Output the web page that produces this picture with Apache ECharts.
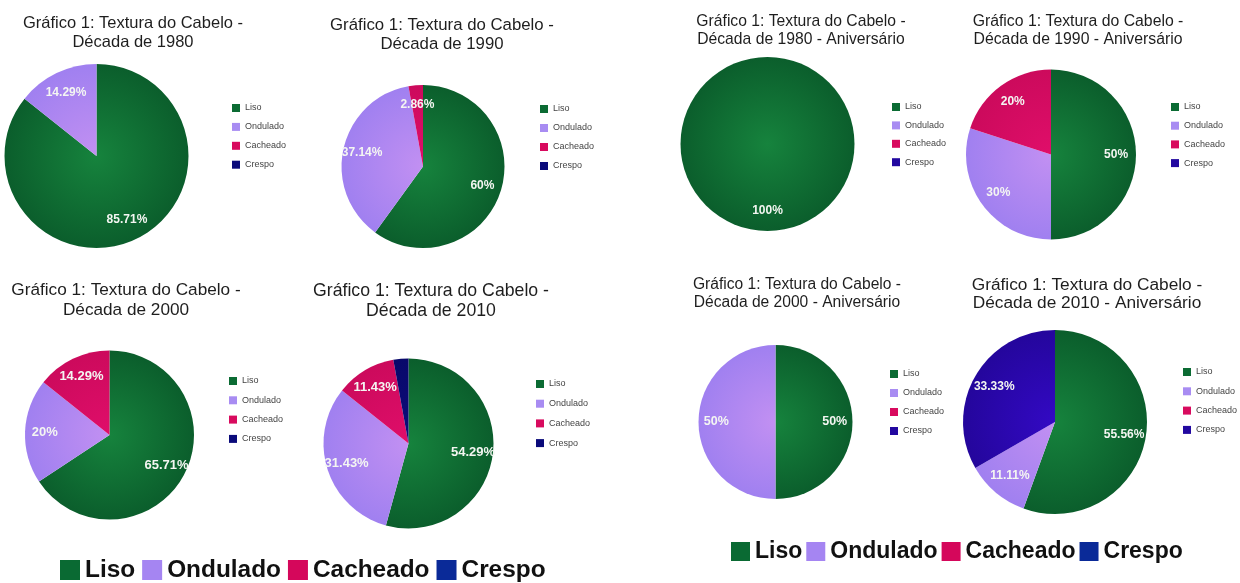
<!DOCTYPE html>
<html><head><meta charset="utf-8">
<script src="https://cdn.jsdelivr.net/npm/echarts@6/dist/echarts.min.js"></script>
<style>html,body{margin:0;padding:0;background:#fff}#c{width:1240px;height:583px}</style>
</head><body><div id="c"></div><script>
// ---- data ----
const categories = ['Liso', 'Ondulado', 'Cacheado', 'Crespo'];
const titles = [
  'Gráfico 1: Textura do Cabelo -\nDécada de 1980',
  'Gráfico 1: Textura do Cabelo -\nDécada de 1990',
  'Gráfico 1: Textura do Cabelo -\nDécada de 1980 - Aniversário',
  'Gráfico 1: Textura do Cabelo -\nDécada de 1990 - Aniversário',
  'Gráfico 1: Textura do Cabelo -\nDécada de 2000',
  'Gráfico 1: Textura do Cabelo -\nDécada de 2010',
  'Gráfico 1: Textura do Cabelo -\nDécada de 2000 - Aniversário',
  'Gráfico 1: Textura do Cabelo -\nDécada de 2010 - Aniversário'
];
const dec1980 = [85.71, 14.29, 0, 0];
const dec1990 = [60, 37.14, 2.86, 0];
const dec2000 = [65.71, 20, 14.29, 0];
const dec2010 = [54.29, 31.43, 11.43, 2.86];
const aniv1980 = [100, 0, 0, 0];
const aniv1990 = [50, 30, 20, 0];
const aniv2000 = [50, 50, 0, 0];
const aniv2010 = [55.56, 11.11, 0, 33.33];

// ---- layout / style ----
const FONT = 'Liberation Sans, Arial, sans-serif';
const panels = [
  {data: dec1980,  title: titles[0], cx: 96.5,  cy: 156,   r: 92, tx: 133,  ty: 13.5, tfs: 16.5, tlh: 19, lx: 232,  ly: 102, lsp: 18.9, vfs: 12, side: 'L'},
  {data: dec1990,  title: titles[1], cx: 423,   cy: 166.5, r: 81.5, tx: 442, ty: 15.5, tfs: 16.8, tlh: 19, lx: 540,  ly: 103, lsp: 19,   vfs: 12, side: 'L'},
  {data: aniv1980, title: titles[2], cx: 767.5, cy: 144,   r: 87, tx: 801,  ty: 12.5, tfs: 15.7, tlh: 18, lx: 892,  ly: 101, lsp: 18.4, vfs: 12, side: 'R'},
  {data: aniv1990, title: titles[3], cx: 1051,  cy: 154.5, r: 85, tx: 1078, ty: 12.5, tfs: 15.8, tlh: 18, lx: 1171, ly: 101, lsp: 18.7, vfs: 12, side: 'R'},
  {data: dec2000,  title: titles[4], cx: 109.5, cy: 435,   r: 84.5, tx: 126, ty: 280, tfs: 17.2, tlh: 20, lx: 229,  ly: 375, lsp: 19.3, vfs: 13, side: 'L'},
  {data: dec2010,  title: titles[5], cx: 408.5, cy: 443.5, r: 85, tx: 431,  ty: 281, tfs: 17.7, tlh: 20, lx: 536,  ly: 378, lsp: 19.7, vfs: 13, side: 'L'},
  {data: aniv2000, title: titles[6], cx: 775.5, cy: 422,   r: 77, tx: 797,  ty: 276, tfs: 15.6, tlh: 18, lx: 890,  ly: 368, lsp: 19,   vfs: 12.5, side: 'R'},
  {data: aniv2010, title: titles[7], cx: 1055,  cy: 422,   r: 92, tx: 1087, ty: 276, tfs: 17.3, tlh: 18, lx: 1183, ly: 366, lsp: 19.3, vfs: 12, side: 'R'}
];
const sliceColors = {
  L: [['#16833d', '#0b5e2c'], ['#c290f2', '#a080f0'], ['#e00e6a', '#cc0a5c'], ['#0d0d7c', '#08086a']],
  R: [['#16833d', '#0b5e2c'], ['#c290f2', '#a080f0'], ['#e00e6a', '#cc0a5c'], ['#3309c4', '#24069c']]
};
const smallLegendColors = {
  L: ['#0b6b33', '#a88cf2', '#d80a5e', '#0a0a7a'],
  R: ['#0b6b33', '#a88cf2', '#d80a5e', '#2208a0']
};
const bigLegendColors = ['#0a6a33', '#a585f2', '#d5075b', '#0a2a98'];

function grad(p, pair) {
  return {type: 'radial', x: p.cx, y: p.cy, r: p.r, global: true,
    colorStops: [{offset: 0, color: pair[0]}, {offset: 1, color: pair[1]}]};
}

const title = [], legend = [], series = [];
panels.forEach(function (p) {
  title.push({
    text: p.title, left: p.tx, top: p.ty, textAlign: 'center', padding: 0,
    textStyle: {fontFamily: FONT, fontWeight: 'normal', fontSize: p.tfs, lineHeight: p.tlh, color: '#1e1e1e'}
  });
  legend.push({
    orient: 'vertical', left: p.lx, top: p.ly, padding: 0,
    itemWidth: 8, itemHeight: 8, itemGap: p.lsp - 12, icon: 'rect',
    textStyle: {fontFamily: FONT, fontSize: 9, lineHeight: 12, color: '#444'},
    selectedMode: false,
    data: categories.map(function (c, i) { return {name: c, itemStyle: {color: smallLegendColors[p.side][i]}}; })
  });
  const items = categories.map(function (c, i) {
    return {name: c, value: p.data[i], itemStyle: {color: grad(p, sliceColors[p.side][i])}};
  });
  series.push({
    type: 'pie', center: [p.cx, p.cy], radius: [0, p.r], startAngle: 90, clockwise: true,
    silent: true, avoidLabelOverlap: false, label: {show: false}, labelLine: {show: false},
    itemStyle: {borderWidth: 0}, emphasis: {disabled: true},
    data: items
  });
  // label ring (transparent) so that the labels sit at ~0.73 of the radius
  series.push({
    type: 'pie', center: [p.cx, p.cy], radius: [p.r * 0.46, p.r], startAngle: 90, clockwise: true,
    silent: true, avoidLabelOverlap: false, labelLine: {show: false}, emphasis: {disabled: true},
    itemStyle: {color: 'rgba(0,0,0,0)', borderWidth: 0},
    label: {
      show: true, position: 'inside', color: '#f4f6f2', fontFamily: FONT, fontWeight: 'bold', fontSize: p.vfs,
      formatter: function (d) { return d.value > 0 ? d.value + '%' : ''; }
    },
    data: categories.map(function (c, i) { return {name: c, value: p.data[i]}; })
  });
});

// big legends at bottom
legend.push({
  orient: 'horizontal', left: 60, top: 558, padding: 0, itemWidth: 20, itemHeight: 20, itemGap: 7, icon: 'rect',
  selectedMode: false,
  textStyle: {fontFamily: FONT, fontSize: 24.4, fontWeight: 'bold', color: '#111', lineHeight: 24},
  data: categories.map(function (c, i) { return {name: c, itemStyle: {color: bigLegendColors[i]}}; })
});
legend.push({
  orient: 'horizontal', left: 731, top: 540, padding: 0, itemWidth: 19, itemHeight: 19, itemGap: 4, icon: 'rect',
  selectedMode: false,
  textStyle: {fontFamily: FONT, fontSize: 23, fontWeight: 'bold', color: '#111', lineHeight: 22},
  data: categories.map(function (c, i) { return {name: c, itemStyle: {color: bigLegendColors[i]}}; })
});

const chart = echarts.init(document.getElementById('c'), null, {renderer: 'canvas'});
chart.setOption({backgroundColor: '#ffffff', animation: false, title: title, legend: legend, series: series});
</script></body></html>
